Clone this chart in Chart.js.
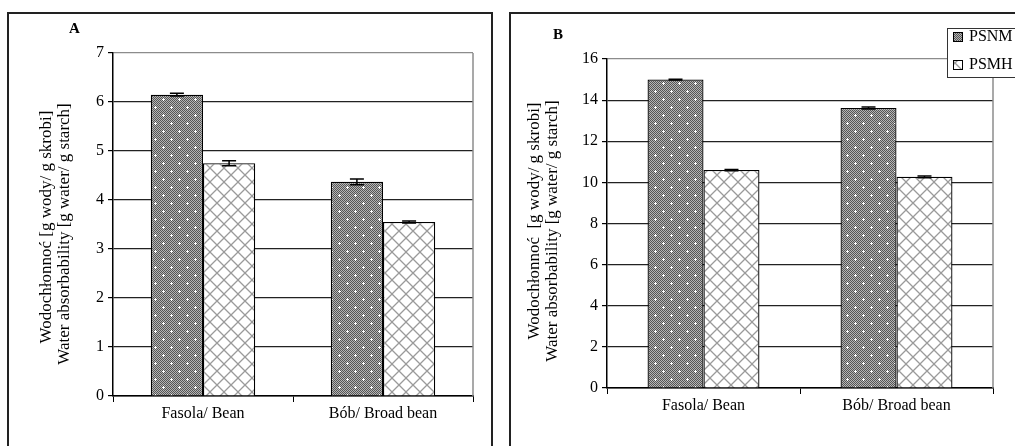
<!DOCTYPE html>
<html>
<head>
<meta charset="utf-8">
<script src="https://cdn.jsdelivr.net/npm/chart.js@4/dist/chart.umd.min.js"></script>
<style>
body { margin: 0; background: #fff; width: 1015px; height: 446px; overflow: hidden; position: relative; }
.frame { position: absolute; border: 2px solid #222; }
#frameA { left: 7px; top: 12px; width: 482px; height: 470px; }
#frameB { left: 509px; top: 12px; width: 530px; height: 470px; }
canvas { position: absolute; top: 0; }
#chartA { left: 0; }
#chartB { left: 500px; }
</style>
</head>
<body>
<div class="frame" id="frameA"></div>
<div class="frame" id="frameB"></div>
<canvas id="chartA" width="500" height="446"></canvas>
<canvas id="chartB" width="515" height="446"></canvas>
<script>
const categories = ['Fasola/ Bean', 'Bób/ Broad bean'];
const seriesNames = ['PSNM', 'PSMH'];

// panel A
const psnmA = [6.15, 4.37];
const psmhA = [4.75, 3.55];
const psnmAErr = [0.03, 0.06];
const psmhAErr = [0.05, 0.02];
const ticksA = [0, 1, 2, 3, 4, 5, 6, 7];

// panel B
const psnmB = [15.0, 13.62];
const psmhB = [10.6, 10.27];
const psnmBErr = [0.02, 0.05];
const psmhBErr = [0.03, 0.04];
const ticksB = [0, 2, 4, 6, 8, 10, 12, 14, 16];

const yTitle = ['Wodochłonnoć [g wody/ g skrobi]', 'Water absorbability [g water/ g starch]'];
const yTitleB = ['Wodochłonnoć  [g wody/ g skrobi]', 'Water absorbability [g water/ g starch]'];

const serif = '"Liberation Serif", "Times New Roman", serif';

// fill patterns
function dottedPattern() {
    const c = document.createElement('canvas');
    c.width = 16; c.height = 16;
    const g = c.getContext('2d');
    for (let y = 0; y < 16; y++) {
        for (let x = 0; x < 16; x++) {
            g.fillStyle = (x + y) % 2 ? '#b5b5b5' : '#555';
            g.fillRect(x, y, 1, 1);
        }
    }
    g.fillStyle = '#fff';
    [[3, 3], [11, 11]].forEach(p => {
        g.fillRect(p[0] - 1, p[1], 3, 1);
        g.fillRect(p[0], p[1] - 1, 1, 3);
    });
    return g.createPattern(c, 'repeat');
}

function crossPattern() {
    const c = document.createElement('canvas');
    c.width = 14; c.height = 14;
    const g = c.getContext('2d');
    g.fillStyle = '#fff';
    g.fillRect(0, 0, 14, 14);
    g.strokeStyle = '#9a9a9a';
    g.lineWidth = 1.3;
    g.beginPath();
    g.moveTo(-1, -1); g.lineTo(15, 15);
    g.moveTo(15, -1); g.lineTo(-1, 15);
    g.stroke();
    return g.createPattern(c, 'repeat');
}

const fillNM = dottedPattern();
const fillMH = crossPattern();

const errorBars = {
    id: 'errorBars',
    afterDatasetsDraw(chart) {
        const ctx = chart.ctx;
        const y = chart.scales.y;
        ctx.save();
        ctx.strokeStyle = '#000';
        ctx.lineWidth = 1.5;
        chart.data.datasets.forEach((ds, i) => {
            chart.getDatasetMeta(i).data.forEach((bar, j) => {
                const v = ds.data[j], e = ds.errors[j];
                const top = y.getPixelForValue(v + e);
                const bot = y.getPixelForValue(v - e);
                ctx.beginPath();
                ctx.moveTo(bar.x, top); ctx.lineTo(bar.x, bot);
                ctx.moveTo(bar.x - 7, top); ctx.lineTo(bar.x + 7, top);
                ctx.moveTo(bar.x - 7, bot); ctx.lineTo(bar.x + 7, bot);
                ctx.stroke();
            });
        });
        ctx.restore();
    }
};

// right edge of the plot area
const plotEdge = {
    id: 'plotEdge',
    beforeDatasetsDraw(chart) {
        const a = chart.chartArea, ctx = chart.ctx;
        ctx.save();
        ctx.strokeStyle = '#8c8c8c';
        ctx.lineWidth = 1.5;
        ctx.beginPath();
        ctx.moveTo(a.right, a.top); ctx.lineTo(a.right, a.bottom);
        ctx.stroke();
        ctx.restore();
    }
};

// two-line y title, each line centred on its own point
const axisTitle = {
    id: 'axisTitle',
    afterDraw(chart, args, opts) {
        const ctx = chart.ctx;
        ctx.save();
        ctx.font = opts.size + 'px ' + serif;
        ctx.fillStyle = '#000';
        ctx.textAlign = 'center';
        ctx.textBaseline = 'middle';
        opts.text.forEach((t, i) => {
            ctx.save();
            ctx.translate(opts.x[i], opts.y[i]);
            ctx.rotate(-Math.PI / 2);
            ctx.fillText(t, 0, 0);
            ctx.restore();
        });
        ctx.restore();
    }
};

const panelLabel = {
    id: 'panelLabel',
    afterDraw(chart, args, opts) {
        const ctx = chart.ctx;
        ctx.save();
        ctx.font = 'bold 15px ' + serif;
        ctx.fillStyle = '#000';
        ctx.textBaseline = 'middle';
        ctx.fillText(opts.text, opts.x, opts.y);
        ctx.restore();
    }
};

const boxLegend = {
    id: 'boxLegend',
    afterDraw(chart, args, opts) {
        if (!opts.show) return;
        const ctx = chart.ctx;
        ctx.save();
        ctx.fillStyle = '#fff';
        ctx.fillRect(opts.x, opts.y, 100, 49);
        ctx.strokeStyle = '#333';
        ctx.lineWidth = 1;
        ctx.strokeRect(opts.x + 0.5, opts.y + 0.5, 100, 49);
        chart.data.datasets.forEach((ds, i) => {
            const cy = opts.y + 8 + i * 28;
            ctx.fillStyle = ds.backgroundColor;
            ctx.fillRect(opts.x + 6, cy - 4, 10, 10);
            ctx.strokeStyle = '#000';
            ctx.strokeRect(opts.x + 6.5, cy - 3.5, 9, 9);
            ctx.fillStyle = '#000';
            ctx.font = '16px ' + serif;
            ctx.textBaseline = 'middle';
            ctx.fillText(ds.label, opts.x + 22, cy + 1);
        });
        ctx.restore();
    }
};

function makeChart(id, nm, mh, nmErr, mhErr, ticks, layout) {
    const max = ticks[ticks.length - 1];
    return new Chart(document.getElementById(id), {
        type: 'bar',
        data: {
            labels: categories,
            datasets: [
                { label: seriesNames[0], data: nm, errors: nmErr, backgroundColor: fillNM, borderColor: '#000', borderWidth: 1.3 },
                { label: seriesNames[1], data: mh, errors: mhErr, backgroundColor: fillMH, borderColor: '#000', borderWidth: 1.3 }
            ]
        },
        options: {
            responsive: false,
            animation: false,
            devicePixelRatio: 1,
            layout: { padding: { top: layout.top, right: layout.right, left: 0, bottom: 0 } },
            datasets: { bar: { barPercentage: 1.0, categoryPercentage: 0.58 } },
            plugins: {
                legend: { display: false },
                tooltip: { enabled: false },
                panelLabel: layout.label,
                boxLegend: layout.legend,
                axisTitle: layout.title
            },
            scales: {
                x: {
                    afterFit: s => { s.height = layout.xHeight; },
                    grid: { display: true, drawOnChartArea: false, offset: true, tickLength: 6, tickColor: '#000' },
                    border: { color: '#000', width: 1.5 },
                    ticks: { color: '#000', padding: 2, font: { family: serif, size: 16 } }
                },
                y: {
                    min: 0,
                    max: max,
                    afterFit: s => { s.width = layout.left; },
                    afterBuildTicks: s => { s.ticks = ticks.map(v => ({ value: v })); },
                    grid: {
                        color: c => c.tick && c.tick.value === max ? '#8c8c8c' : '#222',
                        lineWidth: 1.2,
                        tickLength: 5,
                        tickColor: '#000'
                    },
                    border: { color: '#000', width: 1.5 },
                    ticks: { color: '#000', padding: 4, font: { family: serif, size: 16 } }
                }
            }
        },
        plugins: [errorBars, plotEdge, axisTitle, panelLabel, boxLegend]
    });
}

makeChart('chartA', psnmA, psmhA, psnmAErr, psmhAErr, ticksA, {
    top: 53, right: 27, left: 113, xHeight: 50,
    title: { text: yTitle, size: 17, x: [47, 65], y: [227, 234] },
    label: { text: 'A', x: 69, y: 29 },
    legend: { show: false }
});

makeChart('chartB', psnmB, psmhB, psnmBErr, psmhBErr, ticksB, {
    top: 59, right: 22, left: 107, xHeight: 58,
    title: { text: yTitleB, size: 17, x: [35, 53], y: [221, 231] },
    label: { text: 'B', x: 53, y: 35 },
    legend: { show: true, x: 447, y: 28 }
});
</script>
</body>
</html>
